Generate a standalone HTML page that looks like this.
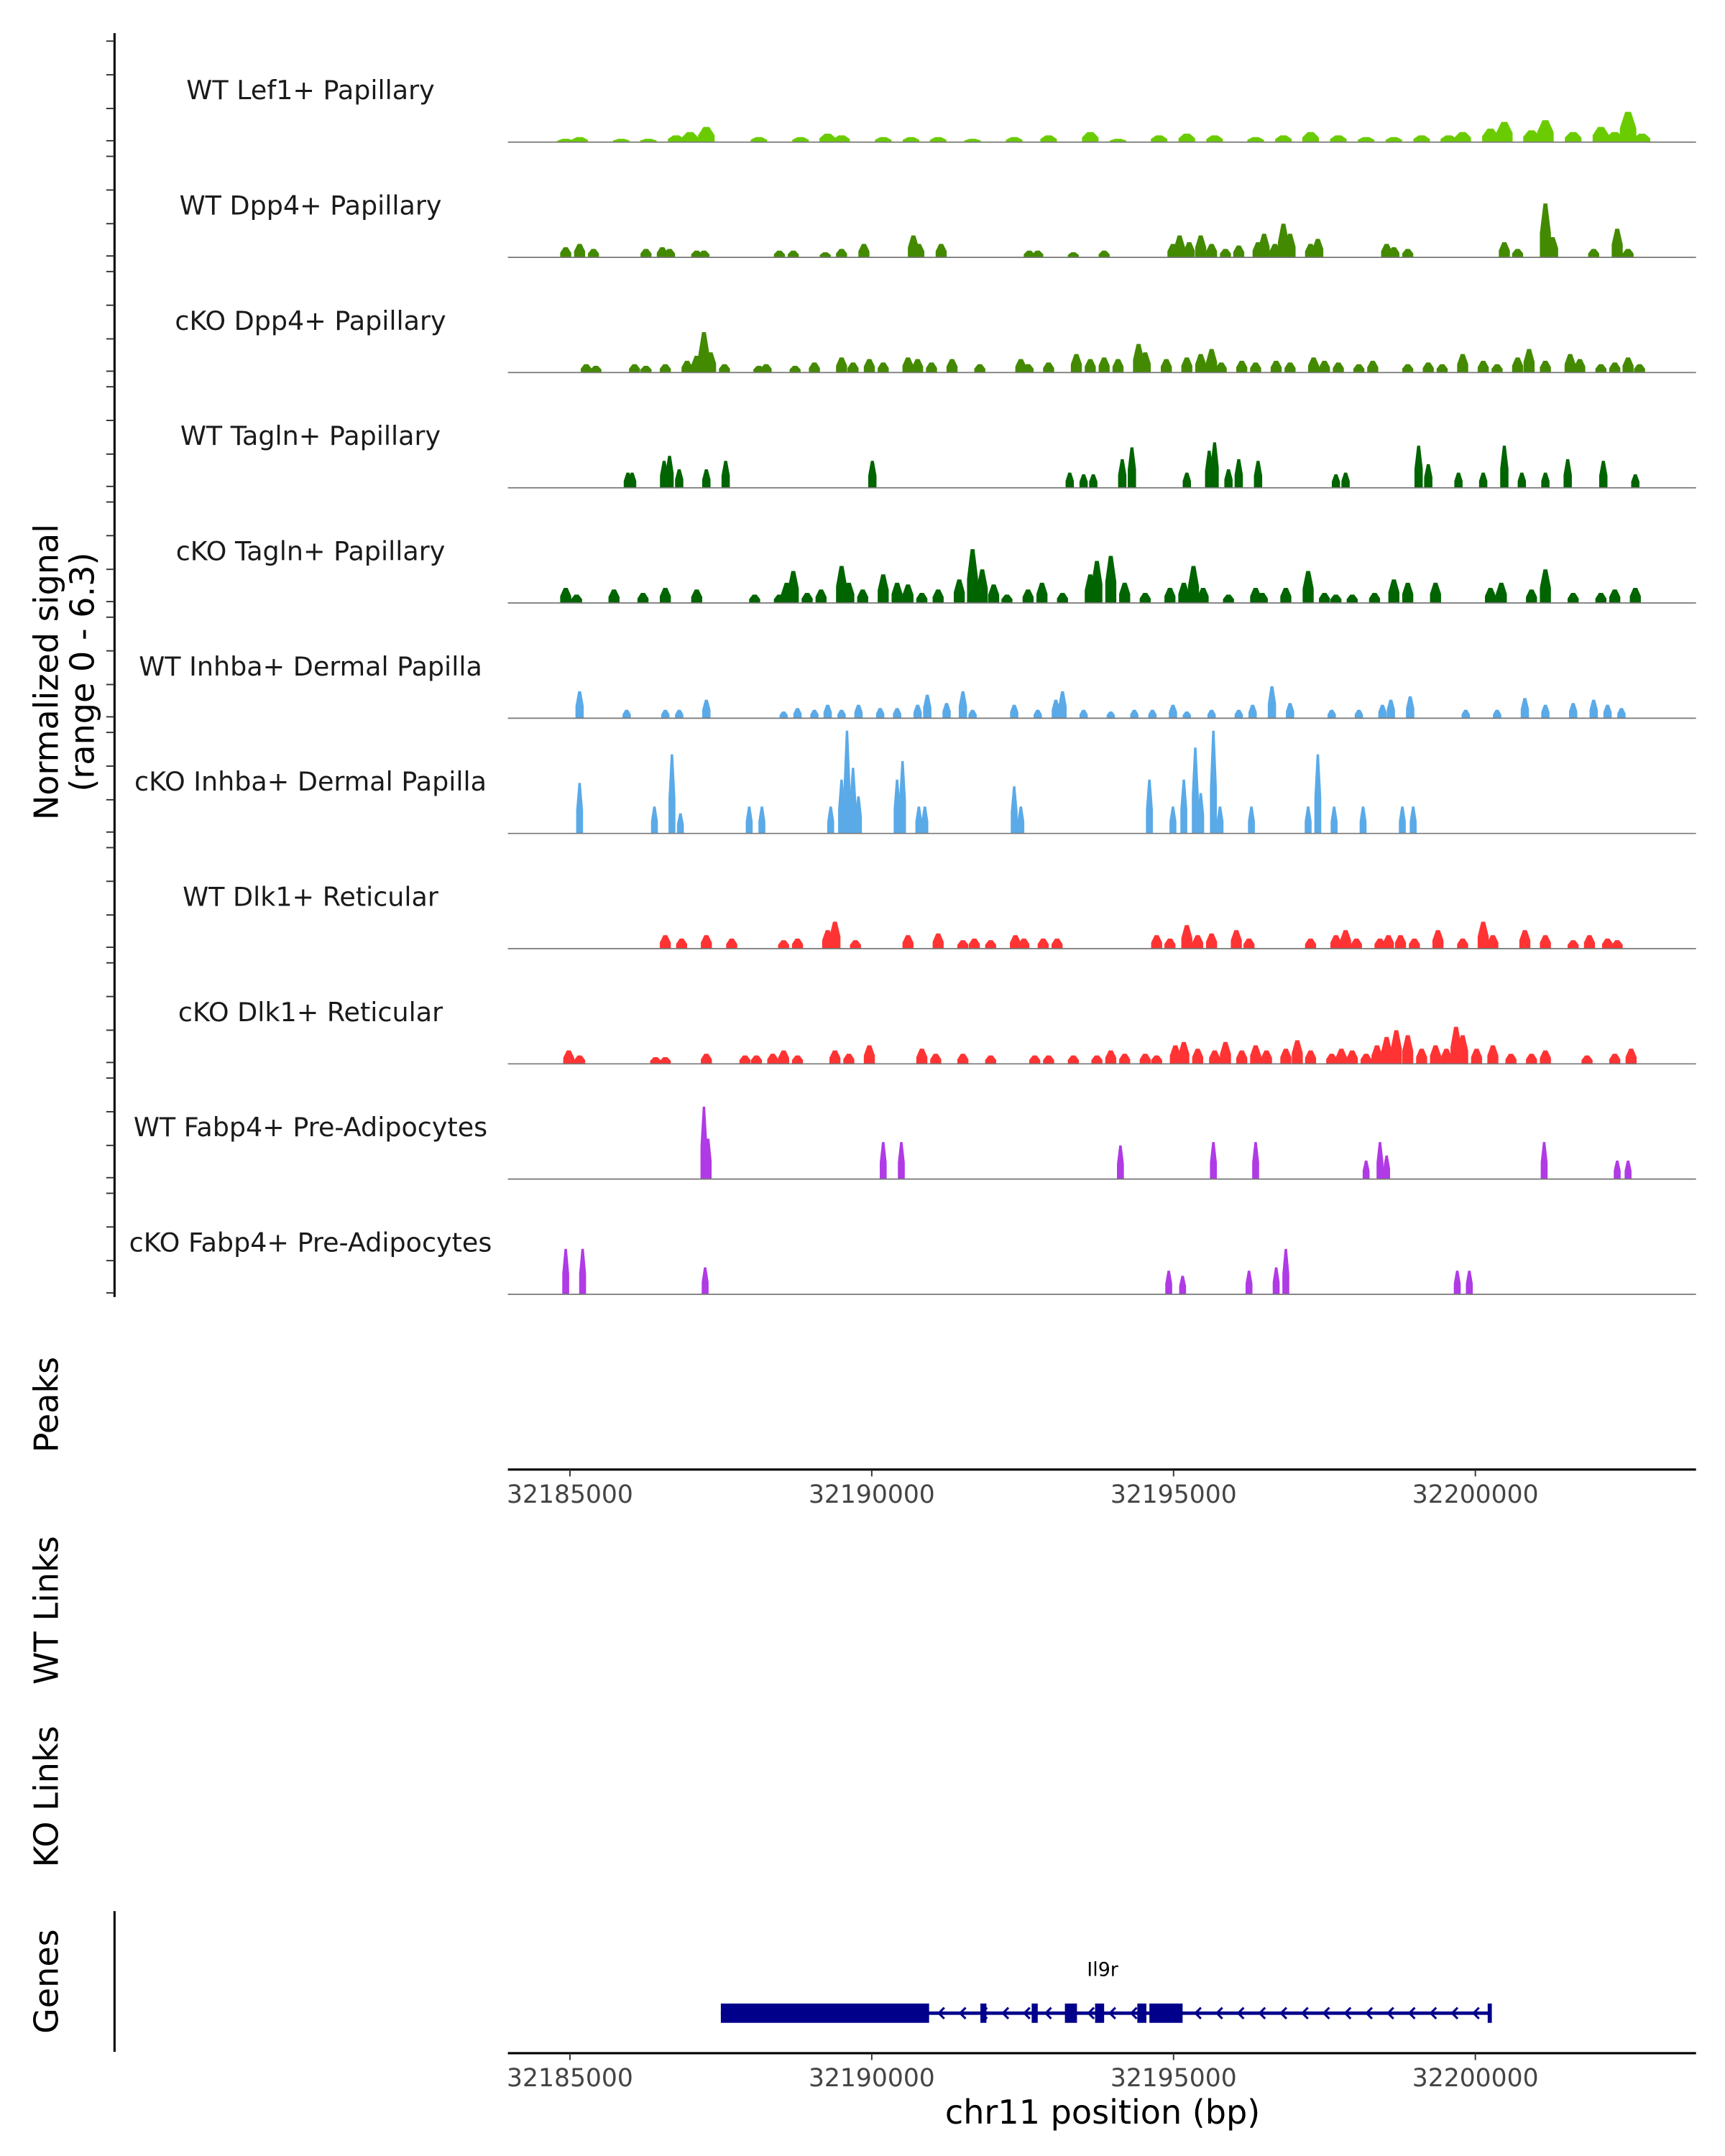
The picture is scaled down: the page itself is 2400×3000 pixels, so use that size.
<!DOCTYPE html>
<html><head><meta charset="utf-8"><style>
html,body{margin:0;padding:0;background:#fff}
svg{display:block}
text{font-family:"DejaVu Sans","Liberation Sans",sans-serif}
</style></head><body>
<svg id="chart" width="2400" height="3000" viewBox="0 0 1250 1562.5" xmlns="http://www.w3.org/2000/svg">
<g id="axes"></g><g id="tracks"></g><g id="gene"></g>
</svg>
<script>
const trackNames=["WT Lef1+ Papillary","WT Dpp4+ Papillary","cKO Dpp4+ Papillary","WT Tagln+ Papillary","cKO Tagln+ Papillary","WT Inhba+ Dermal Papilla","cKO Inhba+ Dermal Papilla","WT Dlk1+ Reticular","cKO Dlk1+ Reticular","WT Fabp4+ Pre-Adipocytes","cKO Fabp4+ Pre-Adipocytes"];
const trackColors=["#6acc00","#438a00","#438a00","#006400","#006400","#5aaae8","#5aaae8","#ff3333","#ff3333","#b03ae6","#b03ae6"];
const xTicks=[32185000,32190000,32195000,32200000];
// positions in kb offset from 32,000,000 ; values in normalized signal
const t1Pos=[184.93,185.16,185.85,186.30,186.76,186.99,187.26,188.13,188.82,189.27,189.50,190.19,190.65,191.10,191.67,192.36,192.93,193.62,194.08,194.76,195.22,195.68,196.36,196.82,197.27,197.73,198.19,198.65,199.11,199.56,199.79,200.25,200.48,200.93,201.16,201.62,202.08,202.31,202.53,202.76];
const t1Val=[0.2,0.3,0.2,0.2,0.4,0.6,0.9,0.3,0.3,0.5,0.4,0.3,0.3,0.3,0.2,0.3,0.4,0.6,0.2,0.4,0.5,0.4,0.3,0.4,0.6,0.4,0.3,0.3,0.4,0.4,0.6,0.8,1.2,0.7,1.3,0.6,0.9,0.6,1.8,0.5];
const t2Pos=[184.93,185.16,185.39,186.26,186.53,186.65,187.10,187.22,188.47,188.70,189.23,189.50,189.87,190.69,190.78,191.15,192.61,192.75,193.34,193.85,194.99,195.10,195.26,195.45,195.63,195.86,196.08,196.40,196.50,196.68,196.82,196.93,197.27,197.39,198.53,198.65,198.88,200.48,200.70,201.16,201.28,201.96,202.35,202.53];
const t2Val=[0.6,0.8,0.5,0.5,0.6,0.5,0.4,0.4,0.4,0.4,0.3,0.5,0.8,1.3,0.8,0.8,0.4,0.4,0.3,0.4,0.8,1.3,0.9,1.3,0.8,0.5,0.7,0.9,1.4,0.8,2.0,1.4,0.8,1.1,0.8,0.6,0.5,0.9,0.5,3.2,1.2,0.5,1.7,0.5];
const t3Pos=[185.27,185.43,186.07,186.26,186.58,186.94,187.10,187.22,187.33,187.56,188.13,188.25,188.73,189.05,189.50,189.69,189.96,190.19,190.60,190.76,190.99,191.33,191.79,192.47,192.59,192.93,193.39,193.62,193.85,194.08,194.42,194.53,194.88,195.22,195.45,195.63,195.79,196.13,196.36,196.70,196.93,197.32,197.50,197.73,198.07,198.30,198.88,199.22,199.45,199.79,200.13,200.36,200.70,200.89,201.16,201.57,201.73,202.08,202.31,202.53,202.72];
const t3Val=[0.5,0.4,0.5,0.4,0.5,0.7,1.0,2.4,1.2,0.5,0.4,0.5,0.4,0.6,0.9,0.6,0.8,0.6,0.9,0.8,0.6,0.8,0.5,0.8,0.5,0.6,1.1,0.8,0.9,0.8,1.7,1.2,0.8,0.9,1.1,1.4,0.6,0.7,0.6,0.7,0.6,0.9,0.7,0.6,0.5,0.7,0.5,0.6,0.5,1.1,0.7,0.5,0.9,1.4,0.7,1.1,0.8,0.5,0.6,0.9,0.5];
const t4Pos=[185.96,186.03,186.56,186.65,186.81,187.26,187.58,190.01,193.28,193.51,193.67,194.15,194.31,195.22,195.59,195.68,195.91,196.08,196.40,197.69,197.85,199.06,199.22,199.72,200.13,200.48,200.77,201.16,201.53,202.12,202.65];
const t4Val=[0.9,0.9,1.6,1.9,1.1,1.1,1.6,1.6,0.9,0.8,0.8,1.7,2.4,0.9,2.2,2.7,1.1,1.7,1.6,0.8,0.9,2.5,1.4,0.9,0.9,2.5,0.9,0.9,1.7,1.6,0.8];
const t5Pos=[184.93,185.11,185.73,186.21,186.58,187.10,188.06,188.47,188.59,188.70,188.93,189.16,189.50,189.62,189.85,190.19,190.42,190.60,190.83,191.10,191.45,191.67,191.83,192.02,192.24,192.59,192.82,193.16,193.62,193.73,193.96,194.19,194.53,194.94,195.17,195.33,195.49,195.91,196.36,196.47,196.86,197.23,197.50,197.69,197.96,198.33,198.65,198.88,199.34,200.25,200.43,200.93,201.16,201.62,202.08,202.31,202.65];
const t5Val=[0.9,0.5,0.8,0.6,0.9,0.8,0.5,0.5,1.2,1.9,0.6,0.8,2.2,1.2,0.8,1.7,1.2,1.1,0.6,0.8,1.4,3.2,2.0,1.1,0.5,0.8,1.2,0.6,1.7,2.5,2.8,1.2,0.6,0.9,1.2,2.2,0.9,0.5,0.9,0.6,0.9,1.9,0.6,0.5,0.5,0.6,1.4,1.2,1.2,0.9,1.2,0.8,2.0,0.6,0.6,0.8,0.9];
const t6Pos=[185.16,185.94,186.58,186.81,187.26,188.54,188.77,189.05,189.27,189.50,189.78,190.14,190.42,190.76,190.92,191.24,191.51,191.67,192.36,192.75,193.05,193.16,193.51,193.96,194.35,194.65,194.99,195.22,195.63,196.08,196.31,196.63,196.93,197.62,198.07,198.46,198.60,198.92,199.84,200.36,200.82,201.16,201.62,201.96,202.19,202.42];
const t6Val=[1.6,0.5,0.5,0.5,1.1,0.4,0.6,0.5,0.8,0.5,0.8,0.6,0.6,0.8,1.4,0.9,1.6,0.5,0.8,0.5,1.1,1.6,0.5,0.4,0.5,0.5,0.8,0.4,0.5,0.5,0.8,1.9,0.9,0.5,0.5,0.8,1.1,1.3,0.5,0.5,1.2,0.8,0.9,1.1,0.8,0.6];
const t7Pos=[185.16,186.40,186.69,186.83,187.97,188.18,189.32,189.50,189.59,189.69,189.78,190.42,190.51,190.78,190.88,192.36,192.47,194.60,194.99,195.17,195.36,195.45,195.66,195.77,196.29,197.23,197.39,197.66,198.14,198.79,198.97];
const t7Val=[3.0,1.6,4.7,1.2,1.6,1.6,1.6,3.2,6.1,3.9,2.2,3.2,4.3,1.6,1.6,2.8,1.6,3.2,1.6,3.2,5.1,2.4,6.1,1.6,1.6,1.6,4.7,1.6,1.6,1.6,1.6];
const t8Pos=[186.58,186.85,187.26,187.68,188.54,188.77,189.27,189.39,189.73,190.60,191.10,191.51,191.70,191.97,192.38,192.52,192.84,193.07,194.72,194.94,195.22,195.40,195.63,196.04,196.25,197.27,197.69,197.85,198.03,198.42,198.56,198.76,198.99,199.38,199.79,200.13,200.29,200.82,201.16,201.62,201.89,202.19,202.35];
const t8Val=[0.8,0.6,0.8,0.6,0.5,0.6,1.1,1.6,0.5,0.8,0.9,0.5,0.6,0.5,0.8,0.6,0.6,0.6,0.8,0.6,1.4,0.8,0.9,1.1,0.6,0.6,0.8,1.1,0.6,0.6,0.8,0.8,0.6,1.1,0.6,1.6,0.8,1.1,0.8,0.5,0.8,0.6,0.5];
const t9Pos=[184.98,185.16,186.42,186.58,187.26,187.90,188.09,188.36,188.54,188.77,189.39,189.62,189.96,190.83,191.06,191.51,191.97,192.70,192.93,193.34,193.73,193.96,194.19,194.53,194.72,195.03,195.17,195.40,195.68,195.86,196.13,196.36,196.54,196.86,197.05,197.27,197.62,197.78,197.96,198.19,198.37,198.53,198.69,198.88,199.11,199.34,199.52,199.68,199.79,200.02,200.29,200.59,200.93,201.16,201.85,202.31,202.58];
const t9Val=[0.8,0.5,0.4,0.4,0.6,0.5,0.5,0.6,0.8,0.5,0.8,0.6,1.1,0.9,0.6,0.6,0.5,0.5,0.5,0.5,0.5,0.8,0.6,0.6,0.5,1.1,1.3,0.9,0.8,1.3,0.8,1.1,0.8,0.9,1.4,0.8,0.6,0.9,0.8,0.6,1.1,1.6,2.0,1.7,0.9,1.1,0.9,2.2,1.7,0.9,1.1,0.6,0.6,0.8,0.5,0.6,0.9];
const t10Pos=[187.22,187.29,190.19,190.49,194.12,195.66,196.36,198.19,198.42,198.53,201.14,202.35,202.53];
const t10Val=[4.3,2.4,2.2,2.2,2.0,2.2,2.2,1.1,2.2,1.4,2.2,1.1,1.1];
const t11Pos=[184.93,185.21,187.24,194.92,195.15,196.25,196.70,196.86,199.70,199.90];
const t11Val=[2.7,2.7,1.6,1.4,1.1,1.4,1.6,2.7,1.4,1.4];
const allPos=[t1Pos,t2Pos,t3Pos,t4Pos,t5Pos,t6Pos,t7Pos,t8Pos,t9Pos,t10Pos,t11Pos];
const allVal=[t1Val,t2Val,t3Val,t4Val,t5Val,t6Val,t7Val,t8Val,t9Val,t10Val,t11Val];
// gene model (bp)
const geneStart=32187500, geneEnd=32200250;
const exonStarts=[32187500,32191800,32192650,32193200,32193700,32194400,32194600];
const exonEnds=[32190950,32191900,32192750,32193400,32193850,32194550,32195150];

const NS="http://www.w3.org/2000/svg";
function el(tag,attrs,parent){const e=document.createElementNS(NS,tag);for(const k in attrs)e.setAttribute(k,attrs[k]);parent.appendChild(e);return e;}
const X0=368,X1=1229;
function xScale(bp){return 413+(bp-32185000)/5000*218.7;}
const base0=103,trackH=83.5,yUnit=12.2;
function yScale(v,i){return base0+i*trackH-v*yUnit;}
const axes=document.getElementById('axes'),tracks=document.getElementById('tracks'),gene=document.getElementById('gene');
const widths=[6,4,4,3,4,3,2.5,4,4,2.5,2.5];

let ax=el('line',{x1:83,y1:24,x2:83,y2:940,stroke:'#000','stroke-width':1.6},axes);

for(let i=0;i<11;i++){for(let k=0;k<4;k++){const y=yScale(k*2,i)+(k===0?-1:0);
 const t=el('line',{x1:77,x2:83,y1:y,y2:y,stroke:'#333','stroke-width':1},axes);
 }}
let yl=el('text',{x:0,y:0,'font-size':24,'text-anchor':'middle',transform:'translate(42,487) rotate(-90)'},axes);

yl.textContent='Normalized signal';
let yl2=el('text',{x:0,y:0,'font-size':24,'text-anchor':'middle',transform:'translate(68,487) rotate(-90)'},axes);

yl2.textContent='(range 0 - 6.3)';
[['Peaks',1018,'peaks-label'],['WT Links',1167,'wt-links-label'],['KO Links',1302,'ko-links-label'],['Genes',1436,'genes-label']].forEach(function(a){
 const t=el('text',{x:0,y:0,'font-size':24,'text-anchor':'middle',transform:'translate(42,'+a[1]+') rotate(-90)'},axes);
 t.textContent=a[0];});

for(let i=0;i<11;i++){
 const g=el('g',{},tracks);
 
 const lab=el('text',{x:225,y:base0+i*trackH-31,'font-size':19,'text-anchor':'middle',fill:'#1a1a1a'},g);
 
 lab.textContent=trackNames[i];
 const b=base0+i*trackH, w=widths[i];
 for(let j=0;j<allPos[i].length;j++){
  const x=xScale(32000000+allPos[i][j]*1000), y=yScale(allVal[i][j],i), h=b-y;
  const pts=[[x-w,b],[x-w,b-h*0.45],[x-w*0.35,y],[x+w*0.35,y],[x+w,b-h*0.45],[x+w,b]].map(p=>p.join(',')).join(' ');
  const p=el('polygon',{points:pts,fill:trackColors[i]},g);
  
 }
 const bl=el('line',{x1:X0,x2:X1,y1:b,y2:b,stroke:'#777','stroke-width':0.9},g);
 
}

function xAxis(y,name){
 const g=el('g',{},axes);
 const l=el('line',{x1:X0,x2:X1,y1:y,y2:y,stroke:'#000','stroke-width':1.6},g);
 
 xTicks.forEach(function(v){const x=xScale(v);
  const t=el('line',{x1:x,x2:x,y1:y,y2:y+5,stroke:'#333','stroke-width':1},g);
  
  const tx=el('text',{x:x,y:y+24,'font-size':18,'text-anchor':'middle',fill:'#444'},g);
  tx.textContent=v;});
}
xAxis(1065,'peaks-x-axis');xAxis(1488,'genes-x-axis');
let xt=el('text',{x:799,y:1539,'font-size':24,'text-anchor':'middle'},axes);
xt.textContent='chr11 position (bp)';
let ga=el('line',{x1:83,x2:83,y1:1385,y2:1487,stroke:'#000','stroke-width':1.6},axes);


const gy=1459,navy='#00008b';
const gl=el('line',{x1:xScale(geneStart),x2:xScale(geneEnd),y1:gy,y2:gy,stroke:navy,'stroke-width':2.5},gene);

for(let x=xScale(exonEnds[0])+8;x<xScale(geneEnd)-4;x+=15.5){
 const a=el('polyline',{points:(x+3)+','+(gy-4)+' '+(x-1)+','+gy+' '+(x+3)+','+(gy+4),fill:'none',stroke:navy,'stroke-width':1.6},gene);
 }
for(let j=0;j<exonStarts.length;j++){
 const x1=xScale(exonStarts[j]),x2=xScale(exonEnds[j]);
 const r=el('rect',{x:x1,y:gy-7,width:Math.max(2.5,x2-x1),height:14,fill:navy},gene);
 }
const ge=el('rect',{x:xScale(geneEnd)-2,y:gy-7,width:3,height:14,fill:navy},gene);

const gt=el('text',{x:799,y:1432,'font-size':14,'text-anchor':'middle'},gene);
gt.textContent='Il9r';
</script>
</body></html>
